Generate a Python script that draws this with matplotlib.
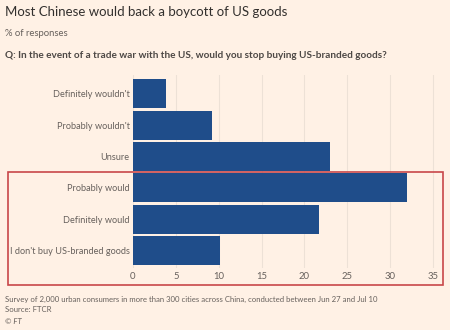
import matplotlib
matplotlib.use("Agg")
import matplotlib.pyplot as plt
from matplotlib.patches import Rectangle

# survey answers and share of responses (%)
answers = ["Definitely wouldn't", "Probably wouldn't", "Unsure",
           "Probably would", "Definitely would", "I don't buy US-branded goods"]
shares = [3.8, 9.2, 23.0, 32.0, 21.7, 10.1]
xticks = [0, 5, 10, 15, 20, 25, 30, 35]

bg = "#fff1e5"
bar_col = "#1f4d8a"
grey = "#66605c"

plt.rcParams['font.family'] = ['Lato', 'DejaVu Sans']

fig = plt.figure(figsize=(4.5, 3.3), dpi=100, facecolor=bg)
ax = fig.add_axes([133/450, 1-268/330, 305/450, (268-75)/330])
ax.set_facecolor(bg)

ypos = list(range(len(answers)))
ax.barh(ypos, shares, height=0.93, color=bar_col, zorder=3)
ax.set_ylim(5.56, -0.6)
ax.set_xlim(0, 35.6)
ax.set_yticks(ypos)
ax.set_yticklabels(answers)
ax.set_xticks(xticks)
ax.tick_params(axis='y', length=0, pad=2.5, labelsize=6.6, labelcolor=grey)
ax.tick_params(axis='x', length=0, pad=3, labelsize=6.8, labelcolor=grey)
ax.grid(axis='x', color="#ede1d6", linewidth=0.8, zorder=0)
for s in ax.spines.values():
    s.set_visible(False)

# highlight box round the "would boycott" answers
fig.patches.append(Rectangle((8/450, 1-285/330), 434.7/450, 112.7/330,
                             transform=fig.transFigure, fill=False,
                             edgecolor="#c8474a", linewidth=1.2, zorder=5))

fig.text(5/450, 1-12/330, "Most Chinese would back a boycott of US goods",
         fontsize=9.5, color="#33302e", va='center', ha='left')
fig.text(5/450, 1-33/330, "% of responses", fontsize=6.8, color=grey,
         va='center', ha='left')
fig.text(5/450, 1-55/330,
         "Q: In the event of a trade war with the US, would you stop buying US-branded goods?",
         fontsize=7.2, fontweight='bold', color="#4d4845", va='center', ha='left')

fig.text(5/450, 1-299/330,
         "Survey of 2,000 urban consumers in more than 300 cities across China, conducted between Jun 27 and Jul 10",
         fontsize=5.6, color=grey, va='center', ha='left')
fig.text(5/450, 1-310/330, "Source: FTCR", fontsize=5.6, color=grey, va='center', ha='left')
fig.text(5/450, 1-321/330, "© FT", fontsize=5.6, color=grey, va='center', ha='left',
         style='italic')

fig.savefig("out.png", dpi=100, facecolor=bg)
